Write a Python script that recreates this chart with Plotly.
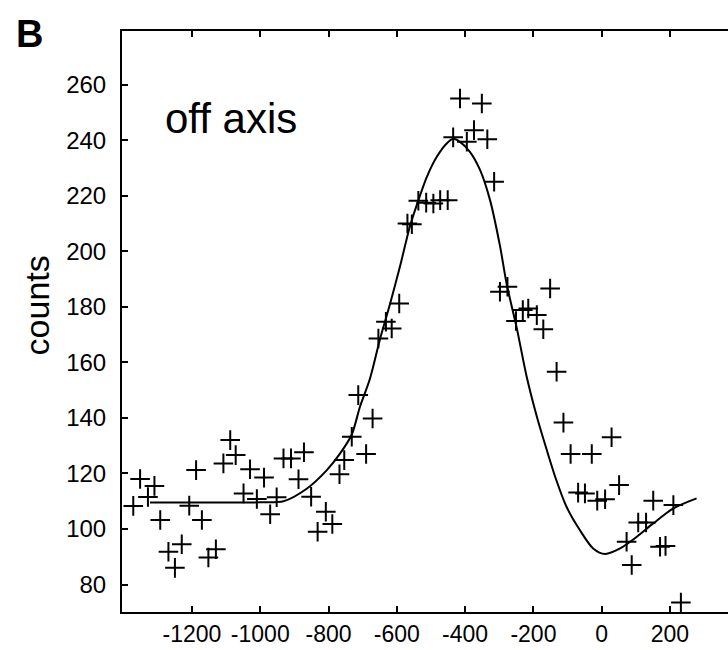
import plotly.graph_objects as go

# measured data points (+ markers)
pts_x = [-1372, -1352, -1329, -1310, -1293, -1269, -1250, -1230, -1208, -1188,
         -1171, -1152, -1130, -1108, -1088, -1072, -1049, -1030, -1010, -989,
         -971, -952, -932, -910, -888, -872, -851, -832, -808, -789,
         -768, -754, -732, -690, -713, -671, -654, -632, -615, -593,
         -569, -556, -537, -514, -493, -473, -451, -435, -415, -395,
         -374, -351, -335, -315, -298, -276, -251, -231, -215, -190,
         -171, -151, -132, -112, -91, -29, 29, -69, -49, -13,
         10, 51, 151, 210, 107, 130, 73, 171, 187, 88, 232]
pts_y = [108.3, 118, 111.5, 115.5, 103.2, 91.8, 86, 94.5, 108.4, 121.2,
         103.2, 89.7, 92.7, 123.6, 132, 126.6, 112.8, 121.5, 110.8, 118.5,
         105.3, 111.4, 125.4, 125.4, 117.9, 127.6, 111.6, 99, 106.2, 101.8,
         119.7, 124.8, 133.2, 127, 148.2, 139.8, 168.6, 174.6, 172.2, 181.2,
         210, 209.7, 218.2, 217.5, 217.2, 218.4, 218.4, 241, 255, 239.4,
         243.6, 253.2, 240.3, 225, 185.4, 187.2, 174.9, 178.8, 179.4, 177,
         171.9, 186.6, 156.6, 138.3, 127, 127, 133, 113.1, 112.8, 110.2,
         110.7, 115.8, 110.2, 108.6, 102.3, 102.3, 95.4, 93.6, 93.9, 87, 73.5]

# fitted curve
fit_x = [-1323, -1150, -1000, -932, -864, -805, -766, -732, -708, -679, -649, -620,
         -591, -562, -542, -512, -483, -454, -435, -415, -386, -356,
         -327, -298, -278, -249, -220, -190, -161, -134, -103, -64,
         -25, 10, 54, 103, 151, 210, 278]
fit_y = [109.5, 109.5, 109.6, 110, 114.5, 121.2, 127.2, 134, 144, 154, 168.5, 181,
         194.4, 208.8, 216.5, 226.8, 234, 238.8, 240.5, 239.4, 235.8, 229.2,
         218.4, 202, 188, 172.5, 155, 140.5, 128.5, 118, 108, 99.6,
         93, 91, 93, 97.2, 102, 107.4, 111]

x_ticks = [-1200, -1000, -800, -600, -400, -200, 0, 200]
x_labels = ["-1200", "-1000", "-800", "-600", "-400", "-200", "0", "200"]
y_ticks = [80, 100, 120, 140, 160, 180, 200, 220, 240, 260]

FONT = "Liberation Sans, Arial, sans-serif"

fig = go.Figure()
fig.add_trace(go.Scatter(x=fit_x, y=fit_y, mode="lines",
                         line=dict(color="black", width=2, shape="spline", smoothing=0.8),
                         hoverinfo="skip"))
fig.add_trace(go.Scatter(x=pts_x, y=pts_y, mode="markers",
                         marker=dict(symbol="cross-thin", size=14, color="black",
                                     line=dict(color="black", width=2))))

fig.update_layout(
    width=728, height=650,
    margin=dict(l=122, r=0, t=31, b=38),
    paper_bgcolor="white", plot_bgcolor="white",
    showlegend=False,
    font=dict(family=FONT, color="black", size=23),
    xaxis=dict(range=[-1405, 370], tickvals=x_ticks, ticktext=x_labels,
               ticks="inside", ticklen=6,
               tickwidth=1.5, tickcolor="black", showline=True, linecolor="black",
               linewidth=2, mirror="ticks", showgrid=False, zeroline=False,
               tickfont=dict(size=23, family=FONT)),
    yaxis=dict(range=[70.1, 279.3], tickvals=y_ticks, ticks="inside", ticklen=6,
               tickwidth=1.5, tickcolor="black", showline=True, linecolor="black",
               linewidth=2, showgrid=False, zeroline=False,
               ticklabelstandoff=9,
               tickfont=dict(size=24, family=FONT)),
    annotations=[
        dict(text="<b>B</b>", xref="paper", yref="paper", x=-0.152, y=0.995,
             showarrow=False, font=dict(size=38, family=FONT), xanchor="center", yanchor="middle"),
        dict(text="off axis", xref="paper", yref="paper", x=0.068, y=0.85,
             showarrow=False, font=dict(size=42, family=FONT), xanchor="left", yanchor="middle"),
        dict(text="counts", xref="paper", yref="paper", x=-0.14, y=0.528,
             showarrow=False, textangle=-90, font=dict(size=34, family=FONT),
             xanchor="center", yanchor="middle"),
    ],
)

fig.write_html("out.html")
